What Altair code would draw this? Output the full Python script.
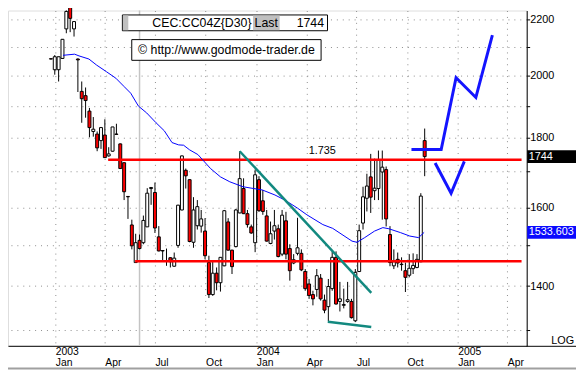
import altair as alt
import pandas as pd

# ---------------- data (weekly candles) ----------------
first_week = "2002-12-24"
opens = [2059, 2021, 2021, 2060, 2166, 2248, 2166, 2058, 1948, 1934,
         1884, 1820, 1812, 1792, 1809, 1746, 1760, 1812, 1782, 1726,
         1630, 1553, 1457, 1513, 1507, 1548, 1652, 1641, 1522, 1487,
         1462, 1469, 1448, 1500, 1593, 1704, 1677, 1508, 1551, 1550,
         1537, 1457, 1380, 1431, 1408, 1449, 1561, 1488, 1497, 1585,
         1652, 1583, 1548, 1507, 1677, 1618, 1577, 1505, 1537, 1543,
         1478, 1564, 1492, 1456, 1480, 1480, 1435, 1405, 1380, 1392,
         1419, 1367, 1352, 1394, 1470, 1364, 1355, 1364, 1364, 1320,
         1435, 1558, 1625, 1685, 1646, 1652, 1699, 1706, 1528, 1449,
         1465, 1452, 1437, 1426, 1442, 1445, 1459, 1792]
highs = [2060, 2072, 2066, 2129, 2235, 2253, 2194, 2060, 1981, 1961,
         1894, 1865, 1820, 1834, 1858, 1772, 1834, 1844, 1783, 1727,
         1631, 1567, 1530, 1528, 1578, 1653, 1656, 1669, 1550, 1488,
         1492, 1470, 1482, 1607, 1747, 1709, 1678, 1628, 1620, 1593,
         1571, 1474, 1460, 1445, 1470, 1593, 1571, 1489, 1596, 1760,
         1681, 1593, 1554, 1706, 1687, 1648, 1593, 1562, 1593, 1554,
         1593, 1588, 1503, 1478, 1572, 1490, 1441, 1417, 1389, 1441,
         1429, 1380, 1417, 1485, 1485, 1410, 1394, 1410, 1370, 1441,
         1554, 1657, 1694, 1752, 1738, 1762, 1762, 1715, 1550, 1490,
         1482, 1470, 1457, 1478, 1480, 1478, 1639, 1829]
lows = [2057, 2004, 1981, 2059, 2150, 2154, 2138, 1946, 1847, 1863,
        1802, 1804, 1760, 1767, 1740, 1744, 1759, 1810, 1708, 1620,
        1569, 1490, 1457, 1490, 1503, 1548, 1607, 1532, 1485, 1459,
        1449, 1445, 1447, 1494, 1592, 1652, 1508, 1494, 1541, 1533,
        1465, 1372, 1377, 1390, 1387, 1448, 1487, 1429, 1495, 1584,
        1582, 1546, 1530, 1483, 1588, 1580, 1510, 1503, 1515, 1470,
        1473, 1465, 1413, 1453, 1475, 1436, 1389, 1370, 1355, 1375,
        1366, 1337, 1319, 1389, 1357, 1341, 1348, 1361, 1325, 1317,
        1434, 1541, 1589, 1585, 1620, 1620, 1567, 1549, 1448, 1441,
        1445, 1437, 1386, 1421, 1429, 1443, 1458, 1687]
closes = [2058, 2066, 2066, 2128, 2231, 2205, 2193, 2055, 1924, 1918,
          1832, 1827, 1770, 1832, 1741, 1752, 1834, 1811, 1709, 1643,
          1629, 1499, 1507, 1492, 1565, 1639, 1655, 1545, 1486, 1486,
          1461, 1459, 1468, 1606, 1746, 1688, 1510, 1593, 1602, 1569,
          1474, 1380, 1431, 1408, 1470, 1591, 1488, 1447, 1593, 1680,
          1583, 1554, 1532, 1691, 1591, 1589, 1511, 1530, 1551, 1472,
          1579, 1478, 1437, 1464, 1494, 1439, 1394, 1378, 1370, 1425,
          1370, 1344, 1399, 1470, 1358, 1370, 1357, 1368, 1327, 1433,
          1538, 1629, 1659, 1628, 1653, 1735, 1713, 1569, 1457, 1459,
          1456, 1453, 1421, 1443, 1450, 1465, 1631, 1744]

ma_dates = ["2003-01-15", "2003-02-05", "2003-02-13", "2003-03-03", "2003-03-17",
            "2003-04-04", "2003-04-21", "2003-05-06", "2003-05-18", "2003-06-01",
            "2003-06-16", "2003-07-03", "2003-07-18", "2003-08-01", "2003-08-13",
            "2003-08-22", "2003-09-02", "2003-09-17", "2003-10-10", "2003-10-28",
            "2003-11-14", "2003-12-08", "2004-01-12", "2004-02-04", "2004-02-22",
            "2004-03-16", "2004-04-02", "2004-05-01", "2004-05-19", "2004-06-23",
            "2004-07-02", "2004-07-16", "2004-08-03", "2004-08-18", "2004-08-29",
            "2004-09-19", "2004-10-06", "2004-10-22", "2004-11-01"]
ma_values = [2071, 2075, 2069, 2058, 2037, 2014, 1992, 1964, 1942, 1900,
             1878, 1847, 1822, 1786, 1779, 1778, 1764, 1750, 1709, 1685,
             1671, 1657, 1648, 1634, 1620, 1598, 1580, 1554, 1544, 1511,
             1508, 1520, 1537, 1546, 1543, 1533, 1524, 1520, 1533.603]

level_prices = [1735, 1460]
level_starts = ["2003-04-07", "2003-05-26"]
level_end = "2005-04-27"
level_label = "1.735"
level_label_date = "2004-04-30"

trend_starts = ["2003-12-02", "2004-05-10"]
trend_ends = ["2004-07-28", "2004-07-28"]
trend_p0 = [1760, 1318]
trend_p1 = [1384, 1306]

fc_up_dates = ["2004-10-09", "2004-12-02", "2004-12-29", "2005-02-03", "2005-03-05"]
fc_up_prices = [1765, 1765, 1994, 1928, 2143]
fc_dn_dates = ["2004-11-21", "2004-12-20", "2005-01-13"]
fc_dn_prices = [1725, 1639, 1730]

marker_date = "2003-06-03"
tag_prices = [1744, 1533.603]
tag_labels = ["1744", "1533.603"]
tag_colors = ["#000000", "#0a0aff"]

header_symbol = "CEC:CC04Z{D30}"
header_last = "Last"
header_value = "1744"
copyright_text = "\u00a9 http://www.godmode-trader.de"
log_text = "LOG"

FONT = "Liberation Sans"

# ---------------- scales / axes ----------------
xscale = alt.Scale(type="utc", domain=[alt.DateTime(year=2002, month=10, date=16, utc=True),
                                       alt.DateTime(year=2005, month=4, date=27, hours=9, utc=True)])
yscale = alt.Scale(type="log", domain=[1265.1, 2234.5], nice=False, zero=False)

quarters = [(2003, 1), (2003, 4), (2003, 7), (2003, 10), (2004, 1), (2004, 4),
            (2004, 7), (2004, 10), (2005, 1), (2005, 4)]
xaxis = alt.Axis(
    values=[alt.DateTime(year=y, month=m, date=1, utc=True) for y, m in quarters],
    grid=True, gridDash=[1, 5], gridColor="#8c8c8c", gridWidth=1,
    domainColor="black", domainWidth=1, ticks=False,
    labelExpr="utcmonth(datum.value) == 0 ? [utcFormat(datum.value, '%Y'), 'Jan'] : ['', utcFormat(datum.value, '%b')]",
    labelAlign="left", labelBaseline="top", labelPadding=1, labelFontSize=10.5,
    labelLineHeight=11, labelFont=FONT, labelColor="black",
    labelOverlap=False, labelFlush=False, title=None)
yaxis = alt.Axis(
    orient="right", values=list(range(1300, 2201, 100)),
    grid=True, gridDash=[1, 5], gridColor="#8c8c8c", gridWidth=1,
    domainColor="black", domainWidth=1, tickColor="black", tickSize=3,
    labelPadding=0, labelExpr="datum.value % 200 == 0 ? datum.value : ''",
    labelFontSize=11, labelFont=FONT, labelColor="black", labelAlign="left",
    labelBaseline="middle", labelOverlap=False, title=None)


def X(field):
    return alt.X(field, type="temporal", scale=xscale, axis=xaxis)


def Y(field):
    return alt.Y(field, type="quantitative", scale=yscale, axis=yaxis)


# ---------------- tables ----------------
dates = pd.date_range(first_week, periods=len(opens), freq="7D").strftime("%Y-%m-%d").tolist()
cdf = pd.DataFrame({"date": dates, "open": opens, "high": highs, "low": lows, "close": closes})
ma_df = pd.DataFrame({"date": ma_dates, "price": ma_values})
lv_df = pd.DataFrame({"start": level_starts, "end": [level_end] * len(level_prices), "price": level_prices})
tr_df = pd.DataFrame({"start": trend_starts, "end": trend_ends, "p0": trend_p0, "p1": trend_p1})
fc_df = pd.DataFrame({"date": fc_up_dates + fc_dn_dates,
                      "price": fc_up_prices + fc_dn_prices,
                      "path": ["up"] * len(fc_up_dates) + ["down"] * len(fc_dn_dates)})
mk_df = pd.DataFrame({"date": [marker_date]})
lbl_df = pd.DataFrame({"date": [level_label_date], "price": [1762], "label": [level_label]})
tag_df = pd.DataFrame({"price": tag_prices, "label": tag_labels, "bg": tag_colors})
one = pd.DataFrame({"k": [0]})

# ---------------- layers ----------------
marker = alt.Chart(mk_df).mark_rule(color="#c4c4c4", strokeWidth=1.5).encode(x=X("date"))

wicks = alt.Chart(cdf).mark_rule(color="black", strokeWidth=1).encode(
    x=X("date"), y=Y("low"), y2="high")

bodies = alt.Chart(cdf).mark_bar(size=3, stroke="black", strokeWidth=1).encode(
    x=X("date"), y=Y("open"), y2="close",
    fill=alt.condition("datum.close < datum.open", alt.value("#ff0000"), alt.value("#ffffff")))

levels = alt.Chart(lv_df).mark_rule(color="#ff0000", strokeWidth=2.5).encode(
    x=X("start"), x2="end", y=Y("price"))

ma = alt.Chart(ma_df).mark_line(color="#0000ff", strokeWidth=1).encode(
    x=X("date"), y=Y("price"))

trend = alt.Chart(tr_df).mark_rule(color="#12897f", strokeWidth=2.5).encode(
    x=X("start"), x2="end", y=Y("p0"), y2="p1")

forecast = alt.Chart(fc_df).mark_line(color="#1414ff", strokeWidth=3).encode(
    x=X("date"), y=Y("price"), detail="path")

level_txt = alt.Chart(lbl_df).mark_text(font=FONT, fontSize=11, color="black",
                                        align="center", baseline="middle").encode(
    x=X("date"), y=Y("price"), text="label")

# header box
hdr_df = pd.DataFrame({"sym": [header_symbol], "last": [header_last], "val": [header_value],
                       "copy": [copyright_text], "log": [log_text]})
box1 = alt.Chart(one).mark_rect(fill="white", stroke="black", strokeWidth=1).encode(
    x=alt.value(116), x2=alt.value(324), y=alt.value(4.5), y2=alt.value(20.5))
box1_grey = alt.Chart(one).mark_rect(fill="#c0c0c0").encode(
    x=alt.value(116.5), x2=alt.value(122), y=alt.value(5), y2=alt.value(20))
box1_last = alt.Chart(one).mark_rect(fill="#c0c0c0").encode(
    x=alt.value(248.5), x2=alt.value(275.5), y=alt.value(5), y2=alt.value(20))
t_sym = alt.Chart(hdr_df).mark_text(font=FONT, fontSize=12.5, align="right", baseline="middle",
                                    color="black").encode(x=alt.value(247), y=alt.value(12.8), text="sym")
t_last = alt.Chart(hdr_df).mark_text(font=FONT, fontSize=12.5, align="left", baseline="middle",
                                     color="black").encode(x=alt.value(250), y=alt.value(12.8), text="last")
t_val = alt.Chart(hdr_df).mark_text(font=FONT, fontSize=12.5, align="right", baseline="middle",
                                    color="black").encode(x=alt.value(320.5), y=alt.value(12.8), text="val")
box2 = alt.Chart(one).mark_rect(fill="white", stroke="black", strokeWidth=1).encode(
    x=alt.value(125.5), x2=alt.value(317.5), y=alt.value(29.5), y2=alt.value(50.5))
t_copy = alt.Chart(hdr_df).mark_text(font=FONT, fontSize=12.5, align="center", baseline="middle",
                                     color="black").encode(x=alt.value(221.5), y=alt.value(40.3), text="copy")
t_log = alt.Chart(hdr_df).mark_text(font=FONT, fontSize=11, align="left", baseline="middle",
                                    color="black").encode(x=alt.value(551), y=alt.value(335), text="log")

# right-hand value tags
tag_bg = alt.Chart(tag_df).mark_rule(strokeWidth=13).encode(
    x=alt.value(526.5), x2=alt.value(576), y=Y("price"), color=alt.Color("bg:N", scale=None))
tag_txt = alt.Chart(tag_df).mark_text(font=FONT, fontSize=11, color="white", align="left",
                                      baseline="middle").encode(x=alt.value(528), y=Y("price"), text="label")

bottom_right = alt.Chart(one).mark_rule(color="black", strokeWidth=1).encode(
    x=alt.value(526), x2=alt.value(576), y=alt.value(340.5))
bottom_grey = alt.Chart(one).mark_rule(color="#a0a0a0", strokeWidth=2).encode(
    x=alt.value(0), x2=alt.value(576), y=alt.value(363))

chart = alt.layer(
    marker, wicks, bodies, levels, ma, trend, forecast, level_txt,
    box1, box1_grey, box1_last, t_sym, t_last, t_val, box2, t_copy, t_log,
    tag_bg, tag_txt, bottom_right, bottom_grey
).properties(
    width=526, height=340,
    autosize=alt.AutoSizeParams(type="none"),
    padding={"left": 0, "top": 0, "right": 50, "bottom": 24},
    background="white",
).configure_view(stroke=None).configure(font=FONT)

chart.save("out.html", embed_options={"renderer": "svg", "actions": False})
